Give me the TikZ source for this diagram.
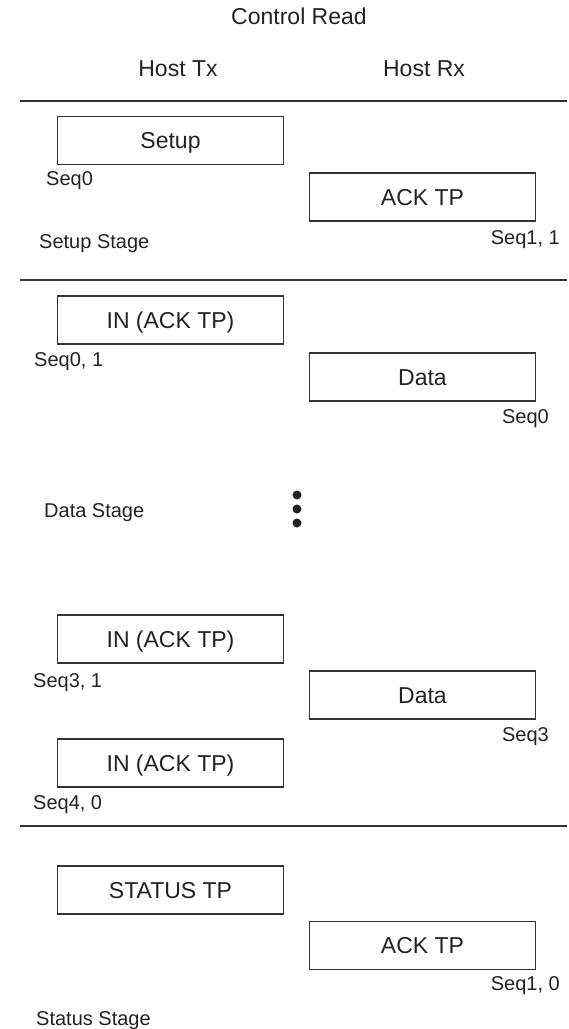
\documentclass[tikz,border=0pt]{standalone}
\usepackage{fontspec}
\setmainfont{Liberation Sans}
\definecolor{ink}{HTML}{222222}
\definecolor{rule}{HTML}{333333}
\tikzset{
  big/.style={font=\fontsize{23}{27}\selectfont, text=ink, inner sep=0pt},
  small/.style={font=\fontsize{20}{24}\selectfont, text=ink, inner sep=0pt},
  pkt/.style={draw=rule, line width=1.4pt, minimum width=226pt, minimum height=48pt,
    inner sep=0pt, text height=16.5pt, text depth=0pt, text=ink,
    font=\fontsize{23}{27}\selectfont},
  divider/.style={draw=rule, line width=1.2pt},
  dot/.style={circle, fill=ink, inner sep=0pt, minimum size=9pt}
}
\begin{document}
\begin{tikzpicture}[x=1pt, y=-1pt]
  \useasboundingbox (0,0) rectangle (569,1029);

  % headings
  \node[big, anchor=base] (title) at (299,24) {Control Read};
  \node[big, anchor=base] (tx) at (178,76) {Host Tx};
  \node[big, anchor=base] (rx) at (424,76) {Host Rx};

  % stage separators
  \coordinate (d1a) at (20,101);  \coordinate (d1b) at (567,101);
  \coordinate (d2a) at (20,280);  \coordinate (d2b) at (567,280);
  \coordinate (d3a) at (20,826);  \coordinate (d3b) at (567,826);
  \draw[divider] (d1a) -- (d1b);
  \draw[divider] (d2a) -- (d2b);
  \draw[divider] (d3a) -- (d3b);

  % setup stage
  \node[pkt] (setup) at (170.5,140.5) {Setup};
  \node[small, anchor=base west] (s0) at (46,185) {Seq0};
  \node[pkt] (ack1) at (422.5,197) {ACK TP};
  \node[small, anchor=base east] (s11) at (560,244) {Seq1, 1};
  \node[small, anchor=base west] (setupstage) at (39,248) {Setup Stage};

  % data stage
  \node[pkt] (in1) at (170.5,320) {IN (ACK TP)};
  \node[small, anchor=base west] (s01) at (34,366) {Seq0, 1};
  \node[pkt] (data1) at (422.5,377) {Data};
  \node[small, anchor=base east] (sd0) at (549,423) {Seq0};
  \node[small, anchor=base west] (datastage) at (44,517) {Data Stage};
  \node[dot] (e1) at (297,495) {};
  \node[dot] (e2) at (297,509) {};
  \node[dot] (e3) at (297,523) {};

  \node[pkt] (in2) at (170.5,639) {IN (ACK TP)};
  \node[small, anchor=base west] (s31) at (33,687) {Seq3, 1};
  \node[pkt] (data2) at (422.5,695) {Data};
  \node[small, anchor=base east] (sd3) at (549,741) {Seq3};
  \node[pkt] (in3) at (170.5,763) {IN (ACK TP)};
  \node[small, anchor=base west] (s40) at (33,809) {Seq4, 0};

  % status stage
  \node[pkt] (status) at (170.5,890) {STATUS TP};
  \node[pkt] (ack2) at (422.5,945.5) {ACK TP};
  \node[small, anchor=base east] (s10) at (560,990) {Seq1, 0};
  \node[small, anchor=base west] (statusstage) at (36,1025) {Status Stage};
\end{tikzpicture}
\end{document}
